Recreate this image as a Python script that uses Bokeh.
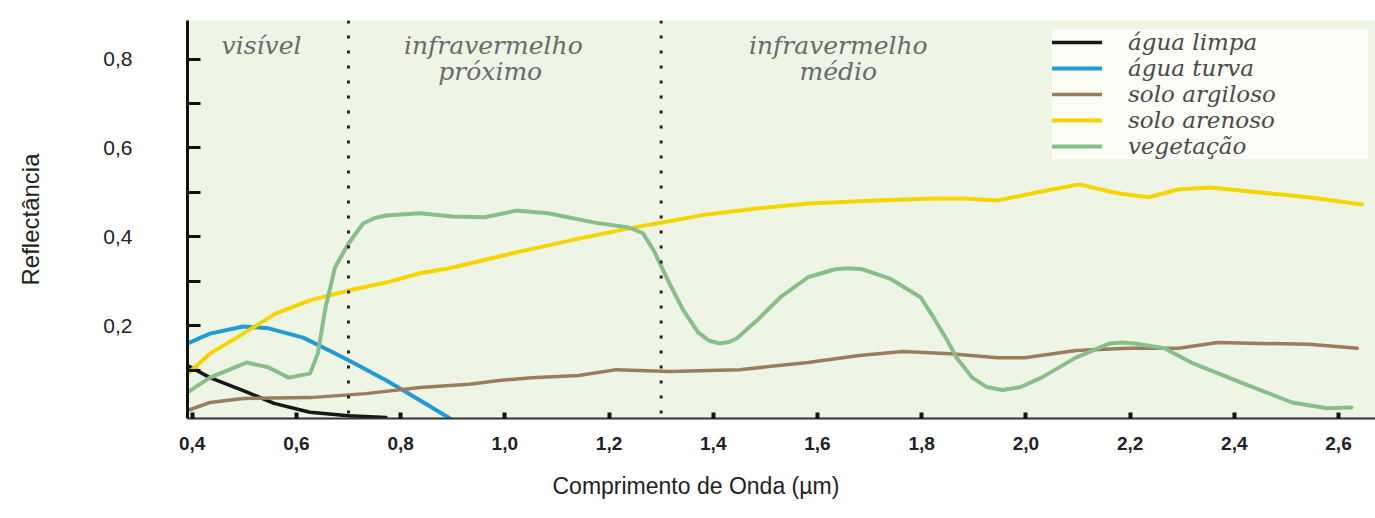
from bokeh.plotting import figure
from bokeh.models import Range1d, FixedTicker, Span, Label, Legend, LegendItem, Title
from bokeh.embed import file_html
from bokeh.resources import INLINE

# ---------------- data ----------------
limpa_x = [0.391, 0.434, 0.498, 0.557, 0.626, 0.700, 0.772]
limpa_y = [0.110, 0.083, 0.054, 0.025, 0.005, -0.003, -0.007]

turva_x = [0.391, 0.434, 0.498, 0.547, 0.613, 0.663, 0.700, 0.772, 0.837, 0.895]
turva_y = [0.160, 0.182, 0.198, 0.194, 0.173, 0.144, 0.122, 0.077, 0.032, -0.009]

argiloso_x = [0.391, 0.434, 0.498, 0.626, 0.733, 0.837, 0.932, 0.993, 1.052, 1.142,
              1.214, 1.316, 1.451, 1.582, 1.680, 1.764, 1.855, 1.946, 1.998, 2.096,
              2.196, 2.293, 2.368, 2.449, 2.543, 2.636]
argiloso_y = [0.009, 0.027, 0.036, 0.038, 0.047, 0.061, 0.068, 0.077, 0.083, 0.088,
              0.101, 0.097, 0.101, 0.117, 0.133, 0.142, 0.137, 0.128, 0.128, 0.144,
              0.149, 0.149, 0.162, 0.160, 0.158, 0.149]

arenoso_x = [0.391, 0.434, 0.498, 0.560, 0.626, 0.700, 0.772, 0.837, 0.900, 1.022,
             1.142, 1.238, 1.316, 1.385, 1.484, 1.582, 1.713, 1.824, 1.886, 1.946,
             2.030, 2.102, 2.176, 2.236, 2.293, 2.355, 2.449, 2.543, 2.645]
arenoso_y = [0.092, 0.137, 0.182, 0.227, 0.257, 0.279, 0.297, 0.318, 0.331, 0.365,
             0.396, 0.419, 0.435, 0.450, 0.464, 0.475, 0.482, 0.486, 0.486, 0.482,
             0.502, 0.518, 0.498, 0.489, 0.507, 0.511, 0.500, 0.489, 0.473]

veg_x = [0.391, 0.434, 0.504, 0.547, 0.585, 0.626, 0.641, 0.656, 0.674, 0.700,
         0.728, 0.750, 0.772, 0.837, 0.900, 0.961, 1.022, 1.083, 1.173, 1.238,
         1.265, 1.286, 1.316, 1.343, 1.371, 1.392, 1.412, 1.430, 1.445, 1.484,
         1.529, 1.582, 1.634, 1.660, 1.686, 1.739, 1.798, 1.823, 1.849, 1.867,
         1.897, 1.925, 1.955, 1.990, 2.030, 2.096, 2.161, 2.185, 2.209, 2.266,
         2.321, 2.417, 2.511, 2.578, 2.625]
veg_y = [0.050, 0.083, 0.117, 0.106, 0.083, 0.092, 0.137, 0.241, 0.331, 0.385,
         0.430, 0.442, 0.448, 0.453, 0.446, 0.444, 0.459, 0.453, 0.432, 0.421,
         0.408, 0.369, 0.295, 0.234, 0.185, 0.166, 0.160, 0.163, 0.171, 0.212,
         0.264, 0.309, 0.327, 0.329, 0.327, 0.306, 0.264, 0.218, 0.167, 0.128,
         0.083, 0.062, 0.055, 0.062, 0.083, 0.128, 0.160, 0.162, 0.160, 0.149,
         0.115, 0.070, 0.027, 0.014, 0.016]

series_names = ["água limpa", "água turva", "solo argiloso", "solo arenoso", "vegetação"]

x_ticks = [0.4, 0.6, 0.8, 1.0, 1.2, 1.4, 1.6, 1.8, 2.0, 2.2, 2.4, 2.6]
x_tick_labels = ["0,4", "0,6", "0,8", "1,0", "1,2", "1,4", "1,6", "1,8", "2,0", "2,2", "2,4", "2,6"]
y_ticks = [0.1, 0.2, 0.3, 0.4, 0.5, 0.6, 0.7, 0.8]
y_tick_labels = ["", "0,2", "", "0,4", "", "0,6", "", "0,8"]

region_bounds = [0.7, 1.3]

# ---------------- figure ----------------
p = figure(width=1375, height=518, output_backend="svg", toolbar_location=None,
           x_range=Range1d(0.391, 2.671), y_range=Range1d(-0.009, 0.887),
           min_border_left=187, min_border_right=0, min_border_top=20, min_border_bottom=100)
p.background_fill_color = "#eff5e4"
p.border_fill_color = "white"
p.outline_line_color = None
p.grid.visible = False

# x axis
xa = p.xaxis[0]
xa.ticker = FixedTicker(ticks=x_ticks)
xa.major_label_overrides = dict(zip(x_ticks, x_tick_labels))
xa.axis_line_color = "#333333"
xa.axis_line_width = 2
xa.major_tick_in = 6
xa.major_tick_out = 0
xa.major_tick_line_width = 4
xa.major_tick_line_color = "#111111"
xa.minor_tick_line_color = None
xa.major_label_standoff = 18
xa.major_label_text_font = "Liberation Sans"
xa.major_label_text_font_style = "bold"
xa.major_label_text_font_size = "19px"
xa.major_label_text_color = "#222222"

# y axis
ya = p.yaxis[0]
ya.ticker = FixedTicker(ticks=y_ticks)
ya.major_label_overrides = dict(zip(y_ticks, y_tick_labels))
ya.axis_line_color = "#111111"
ya.axis_line_width = 3
ya.major_tick_in = 13
ya.major_tick_out = 0
ya.major_tick_line_width = 3
ya.major_tick_line_color = "#111111"
ya.minor_tick_line_color = None
ya.major_label_standoff = 55
ya.major_label_text_font = "Liberation Sans"
ya.major_label_text_font_size = "21px"
ya.major_label_text_color = "#222222"
ya.axis_label = "Reflectância"
ya.axis_label_text_font = "Liberation Sans"
ya.axis_label_text_font_style = "normal"
ya.axis_label_text_font_size = "24px"
ya.axis_label_text_color = "#222222"
ya.axis_label_standoff = 56

# x axis title (offset to the left like the reference)
p.add_layout(Title(text="Comprimento de Onda (µm)", align="left", offset=365, standoff=36,
                   text_font="Liberation Sans", text_font_style="normal",
                   text_font_size="23px", text_color="#222222"), "below")

# region separators
for b in region_bounds:
    p.add_layout(Span(location=b, dimension="height", line_color="#222222",
                      line_width=3, line_dash="3 12"))

# curves
r1 = p.line(limpa_x, limpa_y, line_color="#161616", line_width=3.5, line_join="round", line_cap="round")
r2 = p.line(turva_x, turva_y, line_color="#1f9cd4", line_width=4, line_join="round", line_cap="round")
r3 = p.line(argiloso_x, argiloso_y, line_color="#9c7c5e", line_width=3.5, line_join="round", line_cap="round")
r4 = p.line(arenoso_x, arenoso_y, line_color="#f5d400", line_width=4, line_join="round", line_cap="round")
r5 = p.line(veg_x, veg_y, line_color="#86bf88", line_width=4, line_join="round", line_cap="round")

legend = Legend(items=[LegendItem(label=n, renderers=[r]) for n, r in zip(series_names, [r1, r2, r3, r4, r5])],
                location=(865, 259), orientation="vertical",
                label_text_font="DejaVu Serif", label_text_font_style="italic",
                label_text_font_size="23px", label_text_color="#4a4a4a",
                glyph_width=50, glyph_height=16, label_standoff=26, spacing=0,
                padding=6, margin=0, label_width=240, label_height=16,
                background_fill_color="#fbfcf6", background_fill_alpha=1.0,
                border_line_color=None)
p.add_layout(legend)

# region labels
region_texts = [("visível", 0.533, 0.831), ("infravermelho", 0.978, 0.831), ("próximo", 0.972, 0.773),
                ("infravermelho", 1.640, 0.831), ("médio", 1.640, 0.773)]
for t, x, y in region_texts:
    p.add_layout(Label(x=x, y=y, text=t, text_font="DejaVu Serif", text_font_style="italic",
                       text_font_size="25px", text_color="#6a6a6a",
                       text_align="center", text_baseline="middle"))

open("out.html", "w").write(file_html(p, INLINE))
